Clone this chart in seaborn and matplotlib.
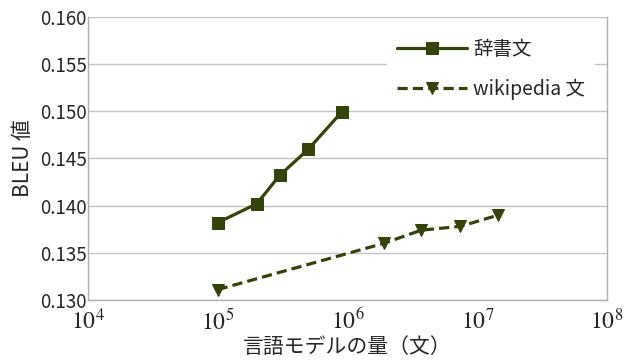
import matplotlib
matplotlib.use("Agg")
import matplotlib.pyplot as plt
import seaborn as sns
import pandas as pd
import numpy as np

# Data
dict_sizes = [1e5, 2e5, 3e5, 5e5, 9e5]
dict_bleu = [0.1382, 0.1402, 0.1432, 0.1460, 0.1499]
wiki_sizes = [1e5, 1.9e6, 3.7e6, 7.4e6, 1.45e7]
wiki_bleu = [0.1311, 0.1360, 0.1374, 0.1378, 0.1390]
series_names = ["辞書文", "wikipedia 文"]
y_ticks = [0.130, 0.135, 0.140, 0.145, 0.150, 0.155, 0.160]
x_ticks = [1e4, 1e5, 1e6, 1e7, 1e8]
x_tick_labels = [r"$10^{4}$", r"$10^{5}$", r"$10^{6}$", r"$10^{7}$", r"$10^{8}$"]

df = pd.DataFrame({
    "size": dict_sizes + wiki_sizes,
    "bleu": dict_bleu + wiki_bleu,
    "series": [series_names[0]] * len(dict_sizes) + [series_names[1]] * len(wiki_sizes),
})

sns.set_style("white")
plt.rcParams["font.family"] = ["Noto Sans CJK JP", "DejaVu Sans"]
plt.rcParams["mathtext.fontset"] = "stix"

color = "#33430a"
fig = plt.figure(figsize=(6.28, 3.6), dpi=100)
ax = fig.add_axes([0.140, 0.1667, 0.8266, 0.7861])

sns.lineplot(
    data=df, x="size", y="bleu", hue="series", style="series",
    palette=[color, color], markers=["s", "v"],
    dashes=[(None, None), (3.2, 1.6)], markersize=9, linewidth=2.3,
    markeredgecolor=color, ax=ax, legend=True,
)

ax.set_xscale("log")
ax.set_xlim(1e4, 1e8)
ax.set_ylim(0.130, 0.160)
ax.set_yticks(y_ticks)
ax.set_yticklabels([f"{v:.3f}" for v in y_ticks], fontsize=13.5)
ax.set_xticks(x_ticks)
ax.set_xticklabels(x_tick_labels, fontsize=17)
ax.xaxis.set_minor_locator(matplotlib.ticker.NullLocator())
ax.tick_params(axis="x", direction="in", length=4, color="#b0b0b0", pad=6)
ax.tick_params(axis="y", length=0, pad=1)

ax.yaxis.grid(True, color="#c4c4c4", linewidth=1.0)
ax.xaxis.grid(False)
ax.set_axisbelow(True)
for side in ["left", "bottom", "right"]:
    ax.spines[side].set_color("#b0b0b0")
    ax.spines[side].set_linewidth(1.0)
ax.spines["top"].set_visible(False)

ax.set_xlabel("言語モデルの量（文）", fontsize=15, labelpad=1)
ax.set_ylabel("BLEU 値", fontsize=15, labelpad=4)

leg = ax.legend(loc="upper right", bbox_to_anchor=(0.995, 0.99), fontsize=14,
                frameon=True, framealpha=1.0, facecolor="white", edgecolor="none",
                handlelength=3.6, labelspacing=0.95, handletextpad=0.3,
                borderpad=0.5, fancybox=False)
leg.set_title(None)

fig.savefig("out.png", dpi=100)
